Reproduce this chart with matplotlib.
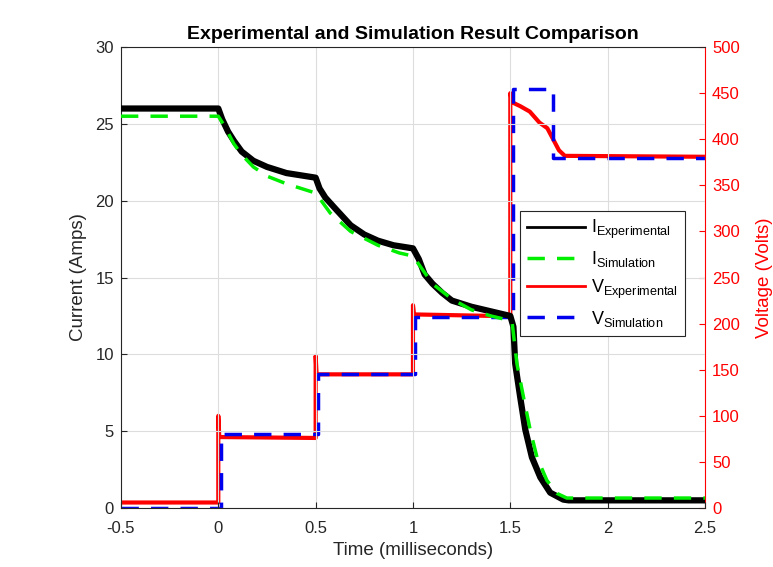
import matplotlib
matplotlib.use("Agg")
import matplotlib.pyplot as plt

plt.rcParams['font.family'] = ['Liberation Sans', 'DejaVu Sans']
plt.rcParams['mathtext.fontset'] = 'custom'
plt.rcParams['mathtext.rm'] = 'Liberation Sans'

# Current (A) - experimental
t_iexp = [-0.5, 0.0, 0.02, 0.05, 0.08, 0.12, 0.18, 0.25, 0.35, 0.45, 0.5, 0.52, 0.55, 0.6,
          0.68, 0.75, 0.82, 0.9, 1.0, 1.03, 1.06, 1.1, 1.15, 1.2, 1.3, 1.4, 1.5, 1.516, 1.525,
          1.551, 1.577, 1.611, 1.654, 1.705, 1.772, 1.8, 2.5]
i_exp = [26.0, 26.0, 25.3, 24.5, 23.9, 23.2, 22.6, 22.2, 21.8, 21.6, 21.5, 20.8, 20.2, 19.5,
         18.4, 17.8, 17.4, 17.1, 16.9, 16.2, 15.2, 14.6, 14.0, 13.5, 13.1, 12.8, 12.5, 11.8, 9.4,
         7.2, 5.1, 3.3, 2.0, 1.0, 0.55, 0.5, 0.5]

# Current (A) - simulation
t_isim = [-0.5, 0.0, 0.03, 0.08, 0.12, 0.18, 0.25, 0.35, 0.45, 0.5, 0.575, 0.68, 0.82, 0.93,
          1.0, 1.05, 1.1, 1.2, 1.3, 1.4, 1.5, 1.51, 1.534, 1.568, 1.602, 1.637, 1.688, 1.74,
          1.79, 2.5]
i_sim = [25.5, 25.5, 24.9, 23.7, 23.0, 22.2, 21.6, 21.1, 20.7, 20.5, 19.2, 18.0, 17.1, 16.6,
         16.4, 15.5, 14.6, 13.6, 12.9, 12.5, 12.2, 12.0, 9.4, 7.2, 5.1, 3.3, 1.8, 0.95,
         0.65, 0.65]

# Voltage (V) - experimental
t_vexp = [-0.5, 0.0, 0.0, 0.005, 0.5, 0.5, 0.505, 1.0, 1.0, 1.005, 1.5, 1.5, 1.51, 1.55,
          1.6, 1.65, 1.69, 1.72, 1.75, 1.78, 2.5]
v_exp = [6, 6, 100, 77, 76, 165, 145, 145, 220, 210, 208, 450, 440, 436,
         430, 418, 412, 400, 388, 382, 381]

# Voltage (V) - simulation (step, post)
t_vsim = [-0.5, 0.015, 0.51, 1.01, 1.515, 1.72, 2.5]
v_sim = [0, 80, 145, 207, 455, 380, 380]

fig = plt.figure(figsize=(7.73, 5.67), dpi=100)
ax = fig.add_axes([0.1565, 0.104, 0.7555, 0.813])
ax2 = ax.twinx()
ax.set_zorder(ax2.get_zorder() + 1)
ax.patch.set_visible(False)

ax.plot(t_iexp, i_exp, color='black', lw=4.5, zorder=3)
ax.plot(t_isim, i_sim, color='#00ee00', lw=2.5, ls=(0, (5, 3.5)), zorder=4)
ax2.plot(t_vexp, v_exp, color='red', lw=3, zorder=3)
ax2.step(t_vsim, v_sim, where='post', color='#0000ee', lw=2.5, ls=(0, (5, 3.5)), zorder=4)

ax.set_xlim(-0.5, 2.5)
ax.set_ylim(0, 30)
ax2.set_ylim(0, 500)
ax.set_xticks([-0.5, 0, 0.5, 1, 1.5, 2, 2.5])
ax.set_xticklabels(['-0.5', '0', '0.5', '1', '1.5', '2', '2.5'])
ax.set_yticks([0, 5, 10, 15, 20, 25, 30])
ax2.set_yticks([0, 50, 100, 150, 200, 250, 300, 350, 400, 450, 500])
ax.grid(True, color='#dddddd', lw=0.8)
ax.set_axisbelow(True)

ax.tick_params(direction='in', labelsize=12, length=4, pad=5, top=False,
               colors='#262626')
ax.tick_params(axis='x', pad=9)
ax2.tick_params(direction='in', labelsize=12, length=4, pad=5, colors='red')
for s in ['left', 'top', 'bottom']:
    ax.spines[s].set_color('#262626')
ax2.spines['right'].set_color('red')
ax.spines['right'].set_visible(False)
ax2.spines['left'].set_visible(False)
ax2.spines['top'].set_visible(False)
ax2.spines['bottom'].set_visible(False)

ax.set_xlabel('Time (milliseconds)', fontsize=13.5, color='#262626', labelpad=5)
ax.set_ylabel('Current (Amps)', fontsize=13.5, color='#262626', labelpad=6)
ax2.set_ylabel('Voltage (Volts)', fontsize=13.5, color='red', labelpad=12)
ax.set_title('Experimental and Simulation Result Comparison', fontsize=14,
             fontweight='bold', pad=6)

labels = [r'I$_{\mathregular{Experimental}}$', r'I$_{\mathregular{Simulation}}$',
          r'V$_{\mathregular{Experimental}}$', r'V$_{\mathregular{Simulation}}$']
handles = [ax.plot([], [], color='black', lw=2)[0],
           ax.plot([], [], color='#00ee00', lw=2.5, ls=(0, (5, 3.5)))[0],
           ax.plot([], [], color='red', lw=2)[0],
           ax.plot([], [], color='#0000ee', lw=2.5, ls=(0, (5, 3.5)))[0]]
leg = ax.legend(handles, labels, loc='upper left', bbox_to_anchor=(0.683, 0.645),
                fontsize=13, frameon=True, fancybox=False, edgecolor='#262626',
                framealpha=1, handlelength=3.2, labelspacing=0.45, borderpad=0.4,
                handletextpad=0.35, borderaxespad=0)
leg.get_frame().set_linewidth(0.8)

fig.savefig('out.png', dpi=100)
